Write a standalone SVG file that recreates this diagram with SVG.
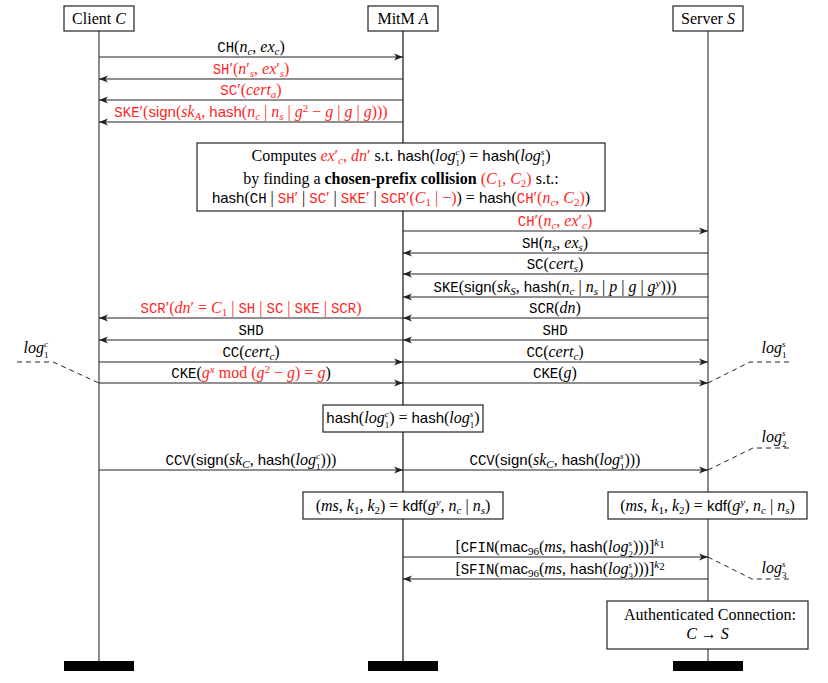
<svg xmlns="http://www.w3.org/2000/svg" width="828" height="683" viewBox="0 0 828 683">
<style>
text{font-family:"Liberation Serif",serif;font-size:16px;text-anchor:middle;fill:#000}
.tt{font-family:"Liberation Mono",monospace;font-size:14px}
.ss{font-family:"Liberation Sans",sans-serif;font-size:15px}
.it{font-style:italic}
.b{font-weight:bold}
.sb{font-size:11px;font-style:italic}
.sn{font-size:11px}
.su{font-size:9px;font-style:italic}
.sl{font-size:9px}
.r{fill:#ff1f1f}
.box{fill:#fff;stroke:#222;stroke-width:1.2}
.life{stroke:#666;stroke-width:1.5}
.lifem{stroke:#222;stroke-width:1.3}
.bar{fill:#000}
.msg{stroke:#222;stroke-width:1.2;fill:none;marker-end:url(#ah)}
.dash{stroke:#222;stroke-width:1;fill:none;stroke-dasharray:5 4}
</style>
<defs>
<marker id="ah" markerUnits="userSpaceOnUse" markerWidth="10" markerHeight="8" refX="9" refY="4" orient="auto">
<path d="M0,0.5 L9,4 L0,7.5 L2.5,4 z" fill="#222"/>
</marker>
</defs>
<rect width="828" height="683" fill="#fff"/>

<g id="lifelines">
<line class="life" x1="99" y1="31" x2="99" y2="661"/>
<line class="lifem" x1="403" y1="31" x2="403" y2="661"/>
<line class="life" x1="708" y1="31" x2="708" y2="661"/>
</g>

<g id="client">
<rect class="box" x="64" y="6" width="70" height="25"/>
<text x="99" y="24">Client <tspan class="it">C</tspan></text>
<rect class="bar" x="64" y="661" width="70" height="10"/>
</g>
<g id="mitm">
<rect class="box" x="368" y="6" width="70" height="25"/>
<text x="403" y="24">MitM <tspan class="it">A</tspan></text>
<rect class="bar" x="368" y="661" width="70" height="10"/>
</g>
<g id="server">
<rect class="box" x="673" y="6" width="70" height="25"/>
<text x="708" y="24">Server <tspan class="it">S</tspan></text>
<rect class="bar" x="673" y="661" width="70" height="10"/>
</g>

<g id="connectors">
<path class="msg" d="M99,57 H403"/>
<path class="msg" d="M403,79 H99"/>
<path class="msg" d="M403,100 H99"/>
<path class="msg" d="M403,122 H99"/>
<path class="msg" d="M403,231 H708"/>
<path class="msg" d="M708,253 H403"/>
<path class="msg" d="M708,274 H403"/>
<path class="msg" d="M708,297 H403"/>
<path class="msg" d="M708,318 H403"/>
<path class="msg" d="M708,340 H403"/>
<path class="msg" d="M403,362 H708"/>
<path class="msg" d="M403,383 H708"/>
<path class="msg" d="M403,318 H99"/>
<path class="msg" d="M403,340 H99"/>
<path class="msg" d="M99,362 H403"/>
<path class="msg" d="M99,383 H403"/>
<path class="msg" d="M99,470 H403"/>
<path class="msg" d="M403,470 H708"/>
<path class="msg" d="M403,557 H708"/>
<path class="msg" d="M708,579 H403"/>
<path class="dash" d="M17,362 H53 L99,383"/>
<path class="dash" d="M708,383 L750,362 H790"/>
<path class="dash" d="M708,470 L753,448 H790"/>
<path class="dash" d="M708,557 L752,579 H790"/>
</g>

<g id="labels">
<text x="251" y="52"><tspan class="tt">CH</tspan>(<tspan class="it">n</tspan><tspan class="sb" dy="3">c</tspan><tspan dy="-3">, </tspan><tspan class="it">ex</tspan><tspan class="sb" dy="3">c</tspan><tspan dy="-3">)</tspan></text>
<text x="251" y="74" class="r"><tspan class="tt">SH</tspan>′(<tspan class="it">n</tspan>′<tspan class="sb" dy="3">s</tspan><tspan dy="-3">, </tspan><tspan class="it">ex</tspan>′<tspan class="sb" dy="3">s</tspan><tspan dy="-3">)</tspan></text>
<text x="251" y="95" class="r"><tspan class="tt">SC</tspan>′(<tspan class="it">cert</tspan><tspan class="sb" dy="3">a</tspan><tspan dy="-3">)</tspan></text>
<text x="251" y="117" class="r"><tspan class="tt">SKE</tspan>′(<tspan class="ss">sign</tspan>(<tspan class="it">sk</tspan><tspan class="sb" dy="3">A</tspan><tspan dy="-3">, </tspan><tspan class="ss">hash</tspan>(<tspan class="it">n</tspan><tspan class="sb" dy="3">c</tspan><tspan dy="-3"> | </tspan><tspan class="it">n</tspan><tspan class="sb" dy="3">s</tspan><tspan dy="-3"> | </tspan><tspan class="it">g</tspan><tspan class="sn" dy="-5">2</tspan><tspan dy="5"> − </tspan><tspan class="it">g</tspan> | <tspan class="it">g</tspan> | <tspan class="it">g</tspan>)))</text>

<text x="555" y="226" class="r"><tspan class="tt">CH</tspan>′(<tspan class="it">n</tspan><tspan class="sb" dy="3">c</tspan><tspan dy="-3">, </tspan><tspan class="it">ex</tspan>′<tspan class="sb" dy="3">c</tspan><tspan dy="-3">)</tspan></text>
<text x="555" y="248"><tspan class="tt">SH</tspan>(<tspan class="it">n</tspan><tspan class="sb" dy="3">s</tspan><tspan dy="-3">, </tspan><tspan class="it">ex</tspan><tspan class="sb" dy="3">s</tspan><tspan dy="-3">)</tspan></text>
<text x="555" y="269"><tspan class="tt">SC</tspan>(<tspan class="it">cert</tspan><tspan class="sb" dy="3">s</tspan><tspan dy="-3">)</tspan></text>
<text x="555" y="292"><tspan class="tt">SKE</tspan>(<tspan class="ss">sign</tspan>(<tspan class="it">sk</tspan><tspan class="sb" dy="3">S</tspan><tspan dy="-3">, </tspan><tspan class="ss">hash</tspan>(<tspan class="it">n</tspan><tspan class="sb" dy="3">c</tspan><tspan dy="-3"> | </tspan><tspan class="it">n</tspan><tspan class="sb" dy="3">s</tspan><tspan dy="-3"> | </tspan><tspan class="it">p</tspan> | <tspan class="it">g</tspan> | <tspan class="it">g</tspan><tspan class="sb" dy="-5">y</tspan><tspan dy="5">)))</tspan></text>
<text x="555" y="313"><tspan class="tt">SCR</tspan>(<tspan class="it">dn</tspan>)</text>
<text x="555" y="335"><tspan class="tt">SHD</tspan></text>
<text x="555" y="357"><tspan class="tt">CC</tspan>(<tspan class="it">cert</tspan><tspan class="sb" dy="3">c</tspan><tspan dy="-3">)</tspan></text>
<text x="555" y="378"><tspan class="tt">CKE</tspan>(<tspan class="it">g</tspan>)</text>

<text x="251" y="313" class="r"><tspan class="tt">SCR</tspan>′(<tspan class="it">dn</tspan>′ = <tspan class="it">C</tspan><tspan class="sn" dy="3">1</tspan><tspan dy="-3"> | </tspan><tspan class="tt">SH</tspan> | <tspan class="tt">SC</tspan> | <tspan class="tt">SKE</tspan> | <tspan class="tt">SCR</tspan>)</text>
<text x="251" y="335"><tspan class="tt">SHD</tspan></text>
<text x="251" y="357"><tspan class="tt">CC</tspan>(<tspan class="it">cert</tspan><tspan class="sb" dy="3">c</tspan><tspan dy="-3">)</tspan></text>
<text x="251" y="378"><tspan class="tt">CKE</tspan>(<tspan class="it r">g</tspan><tspan class="sb r" dy="-5">x</tspan><tspan class="r" dy="5"> mod (</tspan><tspan class="it r">g</tspan><tspan class="sn r" dy="-5">2</tspan><tspan class="r" dy="5"> − </tspan><tspan class="it r">g</tspan><tspan class="r">) = </tspan><tspan class="it r">g</tspan>)</text>

<text x="251" y="465"><tspan class="tt">CCV</tspan>(<tspan class="ss">sign</tspan>(<tspan class="it">sk</tspan><tspan class="sb" dy="3">C</tspan><tspan dy="-3">, </tspan><tspan class="ss">hash</tspan>(<tspan class="it">log</tspan><tspan class="su" dy="-6">c</tspan><tspan class="sl" dx="-4" dy="11">1</tspan><tspan dy="-5">)))</tspan></text>
<text x="555" y="465"><tspan class="tt">CCV</tspan>(<tspan class="ss">sign</tspan>(<tspan class="it">sk</tspan><tspan class="sb" dy="3">C</tspan><tspan dy="-3">, </tspan><tspan class="ss">hash</tspan>(<tspan class="it">log</tspan><tspan class="su" dy="-6">s</tspan><tspan class="sl" dx="-3.5" dy="11">1</tspan><tspan dy="-5">)))</tspan></text>

<text x="560" y="552">[<tspan class="tt">CFIN</tspan>(<tspan class="ss">mac</tspan><tspan class="sn" dy="3">96</tspan><tspan dy="-3">(</tspan><tspan class="it">ms</tspan>, <tspan class="ss">hash</tspan>(<tspan class="it">log</tspan><tspan class="su" dy="-6">s</tspan><tspan class="sl" dx="-3.5" dy="11">2</tspan><tspan dy="-5">)))]</tspan><tspan class="sb" dy="-6">k</tspan><tspan class="sn" font-size="8" dy="2">1</tspan></text>
<text x="560" y="574">[<tspan class="tt">SFIN</tspan>(<tspan class="ss">mac</tspan><tspan class="sn" dy="3">96</tspan><tspan dy="-3">(</tspan><tspan class="it">ms</tspan>, <tspan class="ss">hash</tspan>(<tspan class="it">log</tspan><tspan class="su" dy="-6">s</tspan><tspan class="sl" dx="-3.5" dy="11">3</tspan><tspan dy="-5">)))]</tspan><tspan class="sb" dy="-6">k</tspan><tspan class="sn" font-size="8" dy="2">2</tspan></text>

<text x="36" y="353"><tspan class="it">log</tspan><tspan class="su" dy="-6">c</tspan><tspan class="sl" dx="-4" dy="11">1</tspan></text>
<text x="774" y="353"><tspan class="it">log</tspan><tspan class="su" dy="-6">s</tspan><tspan class="sl" dx="-3.5" dy="11">1</tspan></text>
<text x="774" y="442"><tspan class="it">log</tspan><tspan class="su" dy="-6">s</tspan><tspan class="sl" dx="-3.5" dy="11">2</tspan></text>
<text x="774" y="573"><tspan class="it">log</tspan><tspan class="su" dy="-6">s</tspan><tspan class="sl" dx="-3.5" dy="11">3</tspan></text>
</g>

<g id="collision-box">
<rect class="box" x="197" y="143" width="408" height="68"/>
<text x="401" y="161">Computes <tspan class="it r">ex</tspan><tspan class="r">′</tspan><tspan class="sb r" dy="3">c</tspan><tspan class="r" dy="-3">, </tspan><tspan class="it r">dn</tspan><tspan class="r">′</tspan> s.t. <tspan class="ss">hash</tspan>(<tspan class="it">log</tspan><tspan class="su" dy="-6">c</tspan><tspan class="sl" dx="-4" dy="11">1</tspan><tspan dy="-5">) = </tspan><tspan class="ss">hash</tspan>(<tspan class="it">log</tspan><tspan class="su" dy="-6">s</tspan><tspan class="sl" dx="-3.5" dy="11">1</tspan><tspan dy="-5">)</tspan></text>
<text x="401" y="183.5">by finding a <tspan class="b">chosen-prefix collision</tspan> <tspan class="r">(</tspan><tspan class="it r">C</tspan><tspan class="sn r" dy="3">1</tspan><tspan class="r" dy="-3">, </tspan><tspan class="it r">C</tspan><tspan class="sn r" dy="3">2</tspan><tspan class="r" dy="-3">)</tspan> s.t.:</text>
<text x="401" y="202.5"><tspan class="ss">hash</tspan>(<tspan class="tt">CH</tspan> | <tspan class="tt r">SH</tspan><tspan class="r">′</tspan> | <tspan class="tt r">SC</tspan><tspan class="r">′</tspan> | <tspan class="tt r">SKE</tspan><tspan class="r">′</tspan> | <tspan class="tt r">SCR</tspan><tspan class="r">′(</tspan><tspan class="it r">C</tspan><tspan class="sn r" dy="3">1</tspan><tspan class="r" dy="-3"> | −)</tspan>) = <tspan class="ss">hash</tspan>(<tspan class="tt r">CH</tspan><tspan class="r">′(</tspan><tspan class="it r">n</tspan><tspan class="sb r" dy="3">c</tspan><tspan class="r" dy="-3">, </tspan><tspan class="it r">C</tspan><tspan class="sn r" dy="3">2</tspan><tspan class="r" dy="-3">)</tspan>)</text>
</g>

<g id="hash-box">
<rect class="box" x="323" y="405" width="160" height="27"/>
<text x="403" y="423"><tspan class="ss">hash</tspan>(<tspan class="it">log</tspan><tspan class="su" dy="-6">c</tspan><tspan class="sl" dx="-4" dy="11">1</tspan><tspan dy="-5">) = </tspan><tspan class="ss">hash</tspan>(<tspan class="it">log</tspan><tspan class="su" dy="-6">s</tspan><tspan class="sl" dx="-3.5" dy="11">1</tspan><tspan dy="-5">)</tspan></text>
</g>

<g id="kdf-mitm">
<rect class="box" x="303" y="492" width="200" height="27"/>
<text x="403" y="511">(<tspan class="it">ms</tspan>, <tspan class="it">k</tspan><tspan class="sn" dy="3">1</tspan><tspan dy="-3">, </tspan><tspan class="it">k</tspan><tspan class="sn" dy="3">2</tspan><tspan dy="-3">) = </tspan><tspan class="ss">kdf</tspan>(<tspan class="it">g</tspan><tspan class="sb" dy="-5">y</tspan><tspan dy="5">, </tspan><tspan class="it">n</tspan><tspan class="sb" dy="3">c</tspan><tspan dy="-3"> | </tspan><tspan class="it">n</tspan><tspan class="sb" dy="3">s</tspan><tspan dy="-3">)</tspan></text>
</g>

<g id="kdf-server">
<rect class="box" x="608" y="492" width="199" height="27"/>
<text x="707.5" y="511">(<tspan class="it">ms</tspan>, <tspan class="it">k</tspan><tspan class="sn" dy="3">1</tspan><tspan dy="-3">, </tspan><tspan class="it">k</tspan><tspan class="sn" dy="3">2</tspan><tspan dy="-3">) = </tspan><tspan class="ss">kdf</tspan>(<tspan class="it">g</tspan><tspan class="sb" dy="-5">y</tspan><tspan dy="5">, </tspan><tspan class="it">n</tspan><tspan class="sb" dy="3">c</tspan><tspan dy="-3"> | </tspan><tspan class="it">n</tspan><tspan class="sb" dy="3">s</tspan><tspan dy="-3">)</tspan></text>
</g>

<g id="auth-box">
<rect class="box" x="607" y="601" width="201" height="48"/>
<text x="710" y="620">Authenticated Connection:</text>
<text x="707.5" y="639"><tspan class="it">C</tspan> → <tspan class="it">S</tspan></text>
</g>
</svg>
